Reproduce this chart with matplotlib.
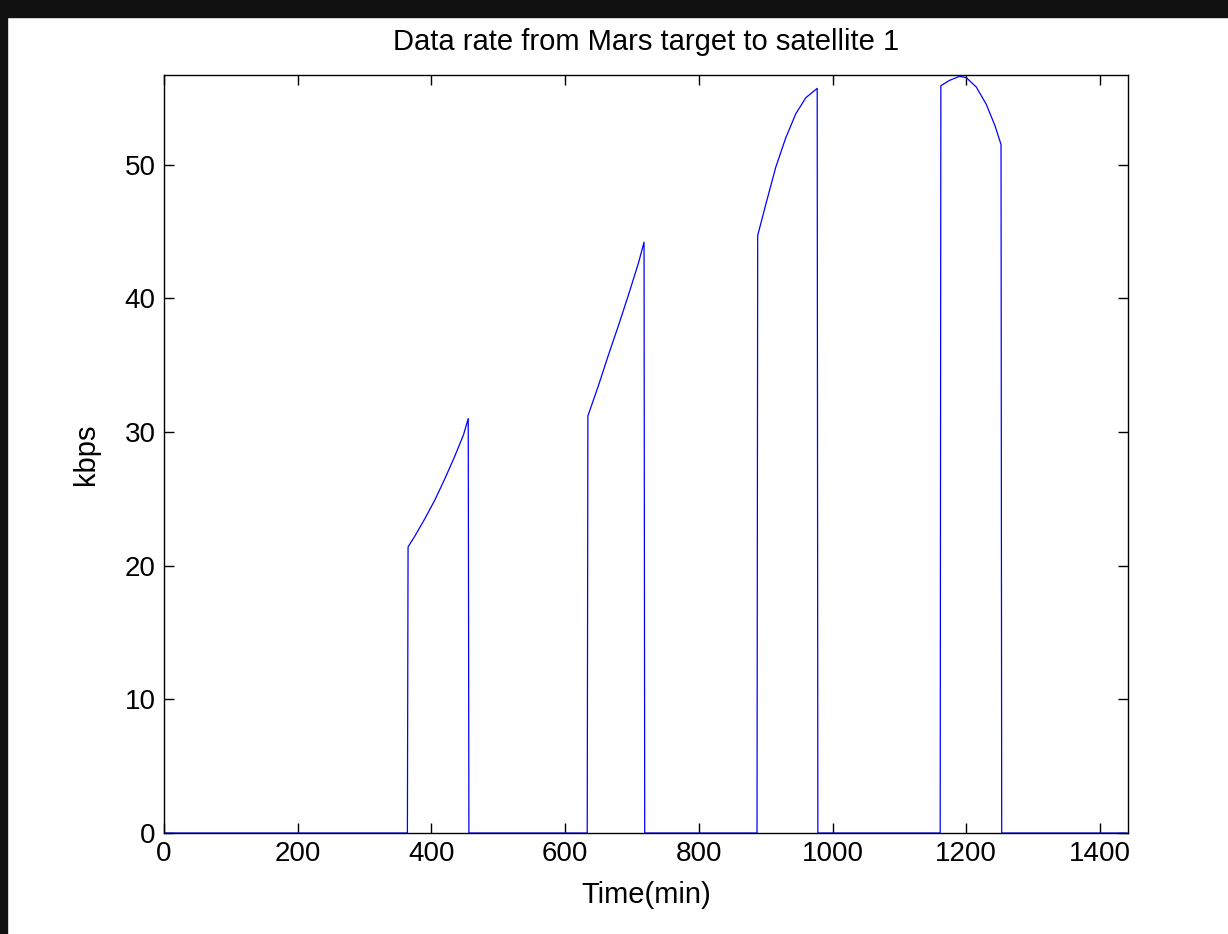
import numpy as np
import matplotlib
matplotlib.use("Agg")
import matplotlib.pyplot as plt
from matplotlib.patches import Rectangle

plt.rcParams['font.family'] = ['Liberation Sans', 'DejaVu Sans']

# contact windows: (minute, kbps)
seg1_t = [365, 375, 390, 405, 420, 435, 448, 455]
seg1_r = [21.4, 22.2, 23.5, 24.9, 26.5, 28.2, 29.8, 31.0]
seg2_t = [634, 650, 665, 680, 695, 710, 718]
seg2_r = [31.2, 33.5, 35.8, 38.0, 40.3, 42.7, 44.2]
seg3_t = [888, 900, 915, 930, 945, 960, 977]
seg3_r = [44.7, 47.0, 49.8, 52.0, 53.8, 55.0, 55.7]
seg4_t = [1162, 1175, 1190, 1200, 1215, 1230, 1243, 1252]
seg4_r = [55.9, 56.3, 56.6, 56.5, 55.8, 54.5, 52.9, 51.5]

# build the full trace, zero outside the windows
t = [1]
r = [0]
for st, sr in [(seg1_t, seg1_r), (seg2_t, seg2_r), (seg3_t, seg3_r), (seg4_t, seg4_r)]:
    t += [st[0] - 1] + st + [st[-1] + 1]
    r += [0] + sr + [0]
t.append(1440)
r.append(0)

fig = plt.figure(figsize=(12.28, 9.34), dpi=100)
ax = fig.add_axes([0.1336, 0.1081, 0.785, 0.8116])
ax.plot(t, r, color=(0, 0, 1), lw=0.9)

ax.set_xlim(0, 1442)
ax.set_ylim(0, 56.7)
ax.set_xticks(np.arange(0, 1401, 200))
ax.set_yticks(np.arange(0, 51, 10))
ax.tick_params(direction='in', top=True, right=True, length=7, width=1,
               labelsize=20, pad=6)
for s in ax.spines.values():
    s.set_linewidth(1)

ax.set_title("Data rate from Mars target to satellite 1", fontsize=21, pad=18)
ax.set_xlabel("Time(min)", fontsize=21, labelpad=10)
ax.set_ylabel("kbps", fontsize=21, labelpad=18)

# dark frame strips from the screenshot
fig.patches.append(Rectangle((0, 1 - 17 / 934), 1, 17 / 934, transform=fig.transFigure,
                             color='#111111', zorder=10))
fig.patches.append(Rectangle((0, 0), 7 / 1228, 1, transform=fig.transFigure,
                             color='#111111', zorder=10))

fig.savefig("out.png", dpi=100)
